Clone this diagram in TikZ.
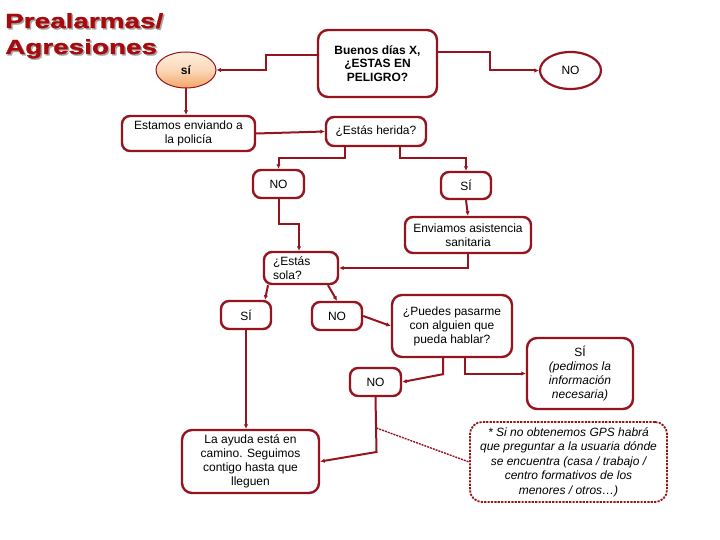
\documentclass[tikz,border=0pt]{standalone}
\usepackage{fontspec}
\setmainfont{Liberation Sans}
\newfontfamily\titlefont{Liberation Sans}[FakeStretch=1.36,FakeBold=1.2]
\usetikzlibrary{shapes.geometric,arrows.meta,calc}
\definecolor{brd}{RGB}{150,20,30}
\definecolor{ttl}{RGB}{166,10,12}
\definecolor{ellin}{RGB}{254,238,220}
\definecolor{ellout}{RGB}{243,165,100}
\tikzset{
  box/.style={draw=brd, line width=2.4pt, rounded corners=8pt, fill=white, inner sep=0pt,
    align=center, font=\fontsize{12}{14}\selectfont},
  bbox/.style={box, font=\fontsize{12}{13.5}\selectfont\bfseries, rounded corners=10pt},
  notebox/.style={draw=brd, line width=1.8pt, dash pattern=on 2.2pt off 1.2pt, rounded corners=12pt,
    inner sep=0pt, align=center, font=\fontsize{12}{14.5}\selectfont\itshape},
  ell/.style={ellipse, draw=brd, inner sep=0pt, font=\fontsize{12}{14}\selectfont},
  conn/.style={draw=brd, line width=2pt, -{Latex[length=4.5pt,width=4.5pt]}},
  dconn/.style={draw=brd, line width=1.4pt, dash pattern=on 2pt off 1pt},
  ttlstyle/.style={anchor=base west, inner sep=0pt, font=\fontsize{20.5}{26}\titlefont\bfseries}
}
\begin{document}
\begin{tikzpicture}[x=1pt,y=-1pt]
\useasboundingbox[fill=white] (0,0) rectangle (720,540);
% title
\node[ttlstyle, text=black!35] (t1s) at (6.5,29.5) {Prealarmas/};
\node[ttlstyle, text=black!35] (t2s) at (6.5,55.5) {Agresiones};
\node[ttlstyle, text=ttl] (t1) at (5,28) {Prealarmas/};
\node[ttlstyle, text=ttl] (t2) at (5,54) {Agresiones};
% nodes
\node[bbox, minimum width=119pt, minimum height=67pt] (buenos) at (377.5,63.5) {Buenos días X,\\ ¿ESTAS EN\\ PELIGRO?};
\node[ell, line width=1pt, top color=ellin, bottom color=ellout, middle color=ellin!70!ellout,
  minimum width=60pt, minimum height=36pt, font=\fontsize{12}{14}\selectfont\bfseries] (siE) at (186,70) {sí};
\node[ell, line width=2.2pt, fill=white, minimum width=61pt, minimum height=37pt] (noE) at (570.5,70.5) {NO};
\node[box, minimum width=133pt, minimum height=35pt] (estamos) at (188.5,133.5) {Estamos enviando a\\ la policía};
\node[box, minimum width=100pt, minimum height=29pt] (herida) at (376,131.5) {¿Estás herida?};
\node[box, minimum width=51pt, minimum height=28pt] (no1) at (278.5,184) {NO};
\node[box, minimum width=50pt, minimum height=27pt] (si1) at (466,185.5) {SÍ};
\node[box, minimum width=126pt, minimum height=36pt] (enviamos) at (468,235) {Enviamos asistencia\\ sanitaria};
\node[box, minimum width=74pt, minimum height=32pt, align=left, text width=56pt] (sola) at (301,268) {¿Estás\\ sola?};
\node[box, minimum width=50pt, minimum height=28pt] (si2) at (246,315) {SÍ};
\node[box, minimum width=50pt, minimum height=28pt] (no2) at (337,316) {NO};
\node[box, minimum width=120pt, minimum height=62pt, rounded corners=10pt] (puedes) at (452,326) {¿Puedes pasarme\\ con alguien que\\ pueda hablar?};
\node[box, minimum width=51pt, minimum height=28pt] (no3) at (375.5,382) {NO};
\node[box, minimum width=106pt, minimum height=71pt, rounded corners=10pt] (sip) at (580,373.5) {SÍ\\ \textit{(pedimos la}\\ \textit{información}\\ \textit{necesaria)}};
\node[box, minimum width=137pt, minimum height=63pt, rounded corners=10pt] (ayuda) at (250.5,461.5) {La ayuda está en\\ camino. Seguimos\\ contigo hasta que\\ lleguen};
\node[notebox, minimum width=197pt, minimum height=80pt] (note) at (568.5,462) {* Si no obtenemos GPS habrá\\ que preguntar a la usuaria dónde\\ se encuentra (casa / trabajo /\\ centro formativos de los\\ menores / otros…)};
% connectors
\draw[conn] ([yshift=8.5pt]buenos.west) -- ++(-51,0) |- (siE.east);
\draw[conn] ([yshift=11.5pt]buenos.east) -- ++(52,0) |- (noE.west);
\draw[conn] (siE.south) -- (siE.south |- estamos.north);
\draw[conn] (estamos.east) -- (herida.west);
\draw[conn] ([xshift=-31pt]herida.south) -- ++(0,11) -| (no1.north);
\draw[conn] ([xshift=24pt]herida.south) -- ++(0,11) -| (si1.north);
\draw[conn] (si1.south) -- (enviamos.north);
\draw[conn] (no1.south) -- ++(0,25) -| ([xshift=-2pt]sola.north);
\draw[conn] (enviamos.south) |- (sola.east);
\draw[conn] ([xshift=-33pt]sola.south) -- ([xshift=19pt]si2.north);
\draw[conn] ([xshift=27pt]sola.south) -- (no2.north);
\draw[conn] (no2.east) -- (puedes.west);
\draw[conn] ([xshift=-9pt]puedes.south) -- ++(0,16) -- (no3.east);
\draw[conn] ([xshift=13pt]puedes.south) |- (sip.west);
\draw[conn] (si2.south) -- (si2.south |- ayuda.north);
\coordinate (mid) at (376.5,428);
\draw[conn] (no3.south) -- (376.5,452) -- (ayuda.east);
\draw[dconn] (mid) -- (note.west);
\end{tikzpicture}
\end{document}
